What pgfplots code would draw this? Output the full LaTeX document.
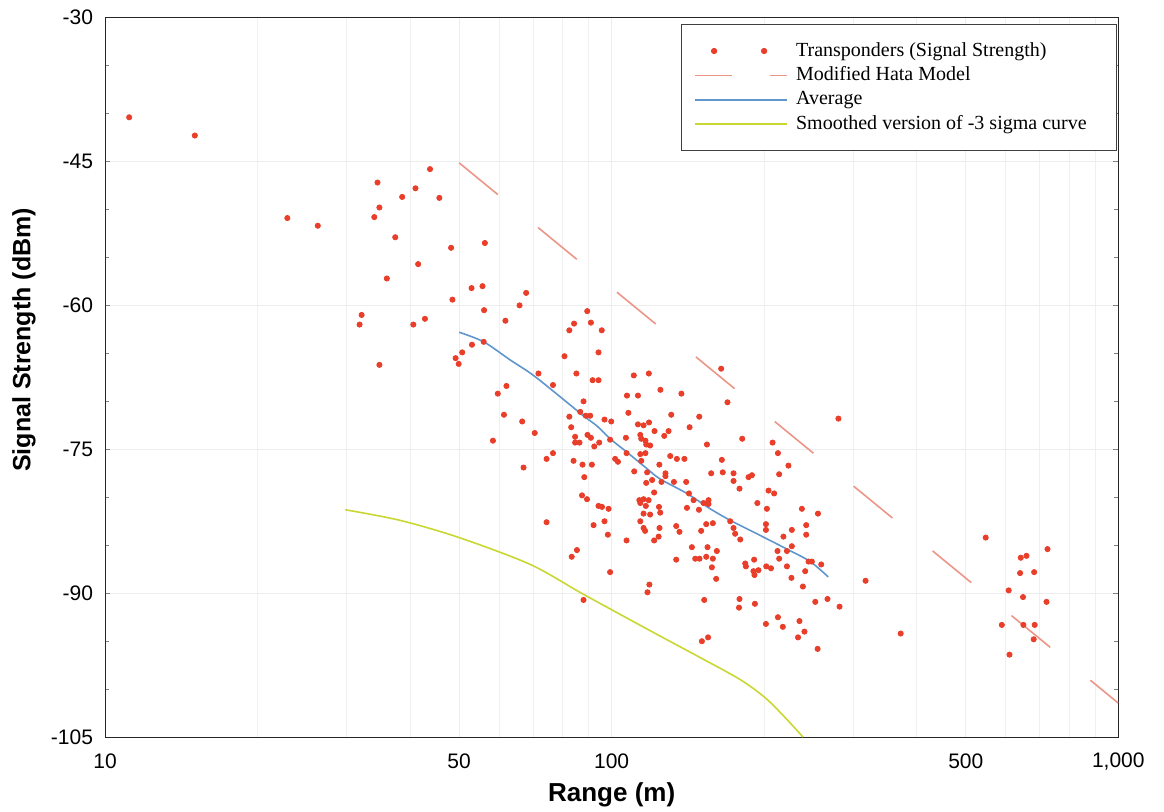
\documentclass[border=0pt]{standalone}
\usepackage{fontspec}
\setmainfont{Liberation Serif}
\newfontfamily\arialf{Liberation Sans}
\usepackage{pgfplots}
\pgfplotsset{compat=1.18}
\definecolor{ptred}{RGB}{232,62,42}
\definecolor{hata}{RGB}{235,150,135}
\definecolor{avgblue}{RGB}{95,150,205}
\definecolor{sigmac}{RGB}{200,215,50}
\begin{document}
\begin{tikzpicture}
\begin{axis}[
  xmode=log, scale only axis, width=506.5pt, height=359.75pt,
  xmin=10, xmax=1000, ymin=-105, ymax=-30,
  xtick={10,50,100,500,1000}, xticklabels={10,50,100,500,{1,000}},
  minor xtick={20,30,40,60,70,80,90,200,300,400,600,700,800,900},
  ytick={-105,-90,-75,-60,-45,-30}, yticklabels={-105,-90,-75,-60,-45,-30},
  minor ytick={-100,-95,-85,-80,-70,-65,-55,-50,-40,-35},
  xmajorgrids=true, xminorgrids=true, ymajorgrids=true,
  major grid style={color=black!7, line width=0.4pt},
  minor grid style={color=black!6, line width=0.4pt},
  xtick style={draw=none},
  ytick pos=both, tick align=inside,
  major tick length=2.5pt, minor tick length=2pt,
  axis line style={black!85, line width=0.5pt},
  ticklabel style={font=\arialf\fontsize{10.5}{12}\selectfont},
  xticklabel style={anchor=center, yshift=-12pt},
  yticklabel style={xshift=-2.5pt},
  xlabel={Range (m)},
  ylabel={Signal Strength (dBm)},
  xlabel style={font=\arialf\bfseries\fontsize{13}{15}\selectfont, at={(axis description cs:0.5,-0.0808)}, anchor=center},
  ylabel style={font=\arialf\bfseries\fontsize{12.5}{15}\selectfont, at={(axis description cs:-0.08,0.552)}, anchor=center},
  legend style={at={(1,1)}, anchor=north east, xshift=-0.8pt, yshift=-3.4pt,
    draw=black!75, line width=0.5pt, fill=white,
    font=\fontsize{10}{12}\selectfont, inner xsep=6.5pt, inner ysep=7pt, row sep=0pt,
    nodes={inner xsep=2.5pt, inner ysep=1.6pt, text height=7pt, text depth=2pt}},
  legend cell align=left,
]
\coordinate (SW) at (rel axis cs:0,0);
\coordinate (NE) at (rel axis cs:1,1);
\addplot[only marks, mark=*, mark size=1.3pt, color=ptred, mark options={draw=ptred, fill=ptred},
  legend image code/.code={\fill[ptred] (9.5pt,0pt) circle (1.3pt); \fill[ptred] (34.5pt,0pt) circle (1.3pt); \path[draw=none, fill=none] (0pt,0pt) -- (48pt,0pt);}]
table {
x y
11.16 -40.4
15.04 -42.3
22.9 -50.9
26.3 -51.7
34.5 -47.2
38.6 -48.7
41.0 -47.8
43.8 -45.8
45.7 -48.8
34.8 -49.8
34.0 -50.8
37.4 -52.9
48.2 -54.0
56.2 -53.5
41.5 -55.7
36.0 -57.2
52.9 -58.2
55.6 -58.0
67.8 -58.7
32.1 -61.0
31.8 -62.0
40.6 -62.0
42.8 -61.4
48.5 -59.4
34.8 -66.2
65.8 -60.0
56.0 -60.5
61.7 -61.6
89.5 -60.6
84.3 -61.9
82.5 -62.6
91.0 -61.8
95.6 -62.6
80.7 -65.3
94.2 -64.9
50.7 -64.9
49.2 -65.5
49.9 -66.1
53.0 -64.1
55.9 -63.8
71.7 -67.1
76.6 -68.3
85.2 -67.1
91.7 -67.8
94.2 -67.8
62.0 -68.4
59.6 -69.2
61.3 -71.4
66.6 -72.1
70.5 -73.3
58.3 -74.1
82.5 -71.6
88.0 -70.0
86.7 -71.1
88.9 -71.5
90.7 -71.5
83.2 -72.7
96.8 -71.9
99.8 -72.1
110.6 -67.3
118.4 -67.1
107.2 -69.4
112.7 -69.4
107.9 -71.2
124.8 -68.8
137.3 -69.2
164.5 -66.6
131.1 -71.4
148.9 -71.6
112.7 -72.4
115.6 -72.5
118.5 -72.2
142.5 -72.7
169.3 -70.1
181.0 -73.9
207.8 -74.3
280.3 -71.8
76.6 -75.4
74.4 -76.0
67.0 -76.9
74.4 -82.6
84.7 -73.7
89.6 -73.5
91.0 -73.8
84.7 -74.3
86.4 -74.3
92.4 -74.7
94.5 -74.3
99.3 -74.0
106.7 -73.8
113.9 -73.5
114.4 -73.9
116.6 -74.1
117.0 -74.5
119.1 -74.6
121.5 -73.1
127.0 -73.6
129.5 -73.1
154.2 -74.5
84.1 -76.2
87.6 -76.6
91.4 -76.6
88.3 -77.9
101.6 -76.0
102.9 -76.3
107.0 -75.4
113.9 -75.5
116.6 -75.4
114.4 -76.2
124.2 -76.6
110.8 -77.3
117.5 -77.4
117.0 -78.5
120.2 -78.2
127.7 -77.5
127.7 -77.8
130.5 -75.7
134.5 -76.0
139.2 -76.0
125.4 -78.4
132.7 -78.4
140.3 -78.4
142.1 -79.6
145.1 -80.3
140.8 -81.1
148.7 -81.3
151.8 -80.6
155.3 -80.3
155.3 -80.7
87.4 -79.8
89.4 -80.2
94.2 -80.9
95.7 -81.0
98.6 -81.2
113.4 -80.3
113.9 -80.6
115.6 -80.2
118.3 -80.3
121.3 -79.5
116.8 -80.9
124.0 -81.0
124.7 -81.6
115.6 -81.7
119.1 -81.8
113.9 -82.5
96.8 -82.5
92.1 -82.9
98.3 -83.9
115.6 -83.2
116.4 -83.5
124.3 -83.2
123.8 -84.1
121.3 -84.5
107.0 -84.5
134.1 -83.0
136.1 -83.6
153.7 -82.8
150.2 -83.5
144.0 -85.2
154.6 -85.2
85.4 -85.5
83.4 -86.2
134.1 -86.5
146.2 -86.4
149.1 -86.4
153.7 -86.2
99.3 -87.8
118.7 -89.1
117.7 -89.9
88.0 -90.7
152.3 -90.7
212.9 -75.4
223.3 -76.7
214.1 -77.6
165.0 -76.1
157.2 -77.5
165.7 -77.4
174.0 -77.5
174.0 -78.3
186.3 -77.9
189.2 -77.7
178.8 -79.1
204.0 -79.3
209.3 -79.6
193.9 -80.6
202.5 -81.2
237.4 -81.2
255.4 -81.7
171.4 -82.5
158.4 -82.7
201.6 -82.8
201.6 -83.4
174.0 -83.2
175.3 -83.8
179.4 -84.4
242.1 -82.9
242.1 -83.9
226.8 -83.4
218.3 -84.1
226.8 -85.1
221.8 -85.6
212.5 -85.6
214.1 -86.4
161.3 -85.6
158.4 -86.4
157.7 -87.3
160.8 -88.5
183.5 -86.9
184.1 -87.2
191.1 -86.5
190.5 -87.7
194.9 -87.6
191.4 -88.1
201.9 -87.2
206.3 -87.4
221.8 -87.2
226.4 -88.4
241.0 -87.7
244.7 -86.7
248.4 -86.7
259.2 -87.0
238.5 -89.3
178.8 -90.6
178.4 -91.5
191.8 -91.1
212.9 -92.5
201.6 -93.2
217.7 -93.5
234.8 -92.9
240.2 -94.0
233.3 -94.6
252.3 -90.9
266.7 -90.6
281.7 -91.4
255.0 -95.8
155.0 -94.6
150.7 -95.0
317.1 -88.7
372.0 -94.2
547.4 -84.2
642.0 -86.3
658.9 -86.1
725.0 -85.4
640.0 -87.9
682.2 -87.8
607.7 -89.7
648.6 -90.4
721.7 -90.9
589.0 -93.3
649.7 -93.3
683.9 -93.3
680.9 -94.8
609.9 -96.4
};
\addlegendentry{\makebox[151pt][l]{Transponders (Signal Strength)}}
\addplot[hata, line width=0.8pt, dash pattern=on 25pt off 26pt,
  legend image code/.code={\draw[hata, line width=0.8pt, solid] (0pt,0pt) -- (18.5pt,0pt) (37.5pt,0pt) -- (46pt,0pt);}]
coordinates {(50,-45.15) (1000,-101.45)};
\addlegendentry{Modified Hata Model}
\addplot[avgblue, line width=0.8pt, smooth,
  legend image code/.code={\draw[avgblue, line width=0.8pt] (0pt,0pt) -- (46pt,0pt);}]
coordinates {(50,-62.8) (55.9,-63.8) (63.1,-65.7) (70.1,-67.3) (81.6,-70.1) (87.9,-71.5) (93.7,-72.6) (99.3,-73.9) (107.2,-75.3) (117.3,-77.0) (124.7,-78.1) (140.8,-79.6) (156.5,-81.2) (171.4,-82.4) (193.5,-83.8) (221.8,-85.4) (246.6,-86.7) (267.6,-88.3)};
\addlegendentry{Average}
\addplot[sigmac, line width=0.8pt, smooth,
  legend image code/.code={\draw[sigmac, line width=0.8pt] (0pt,0pt) -- (46pt,0pt);}]
coordinates {(29.8,-81.3) (38.2,-82.4) (50,-84.2) (69.1,-87.0) (87.9,-90.1) (119.1,-93.9) (149.5,-96.7) (179.4,-99.0) (201.0,-100.9) (219.5,-102.9) (238.7,-105.0)};
\addlegendentry{Smoothed version of -3 sigma curve}
\end{axis}
\pgfresetboundingbox
\path[use as bounding box] ([xshift=-52.5pt,yshift=-37pt]SW) rectangle ([xshift=22.85pt,yshift=8.75pt]NE);
\end{tikzpicture}
\end{document}
